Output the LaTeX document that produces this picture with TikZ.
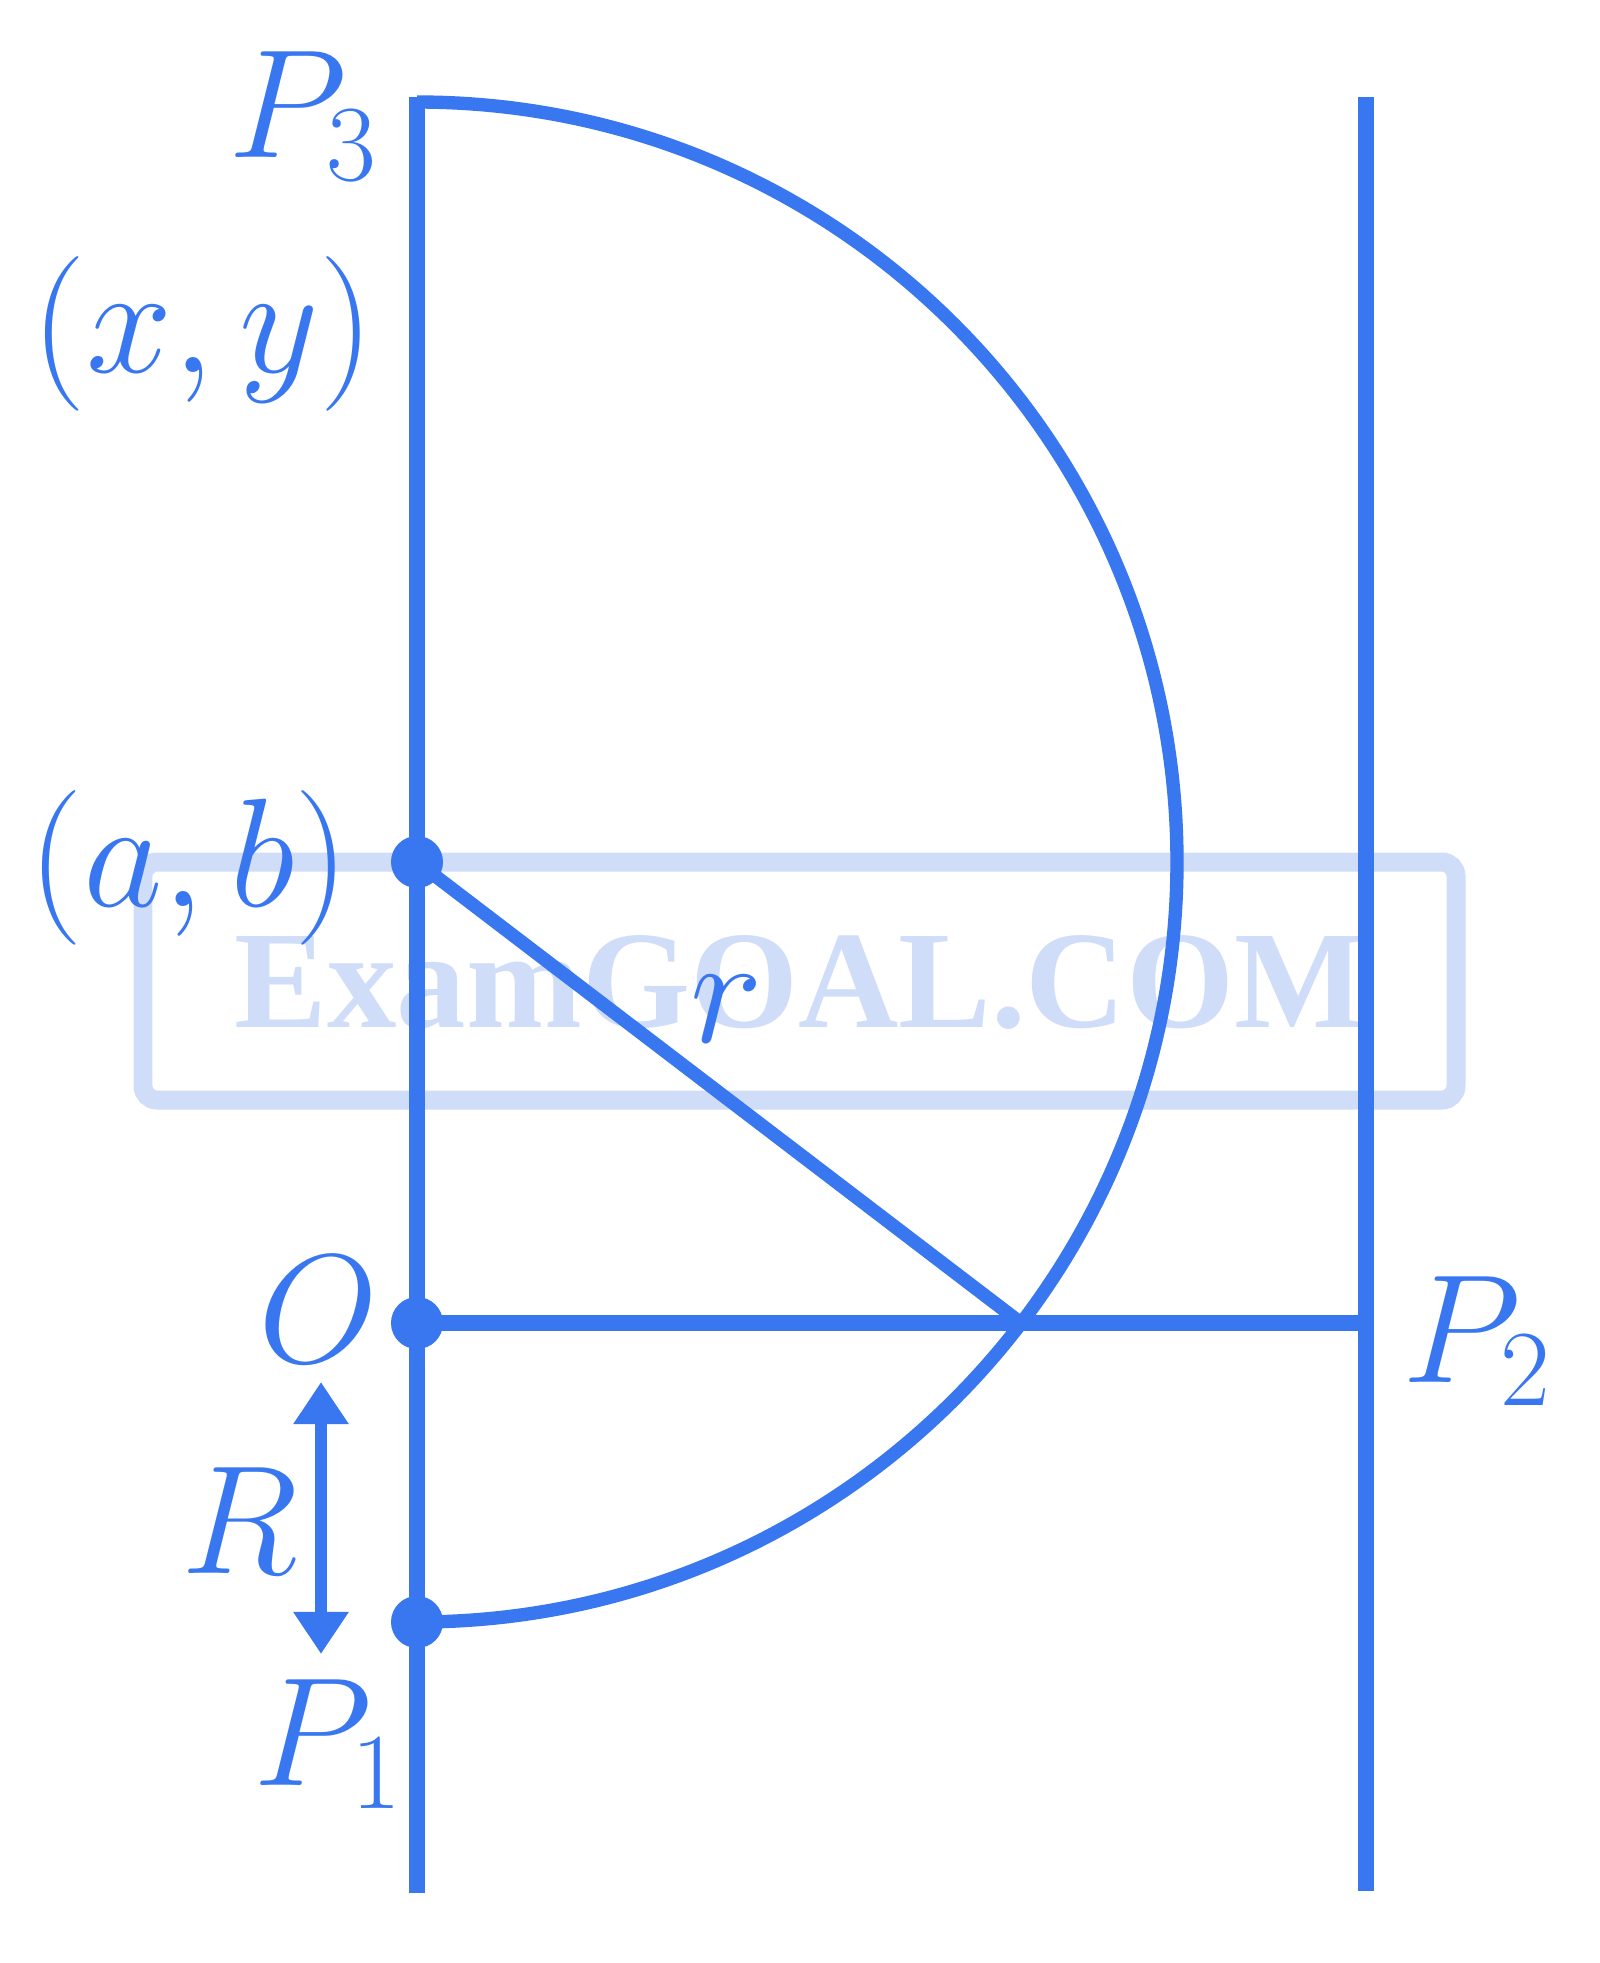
\RequirePackage{fix-cm}
\documentclass[tikz,border=0pt]{standalone}
\usepackage{fontspec}
\usetikzlibrary{arrows.meta}
\newfontfamily\wmfont{Liberation Serif}
\definecolor{ink}{RGB}{56,119,240}
\definecolor{wm}{RGB}{207,221,249}

\begin{document}
\begin{tikzpicture}[x=0.01cm, y=-0.01cm,
	blob/.style = {circle, fill=ink, inner sep=0pt, minimum size=0.52cm},
	lbl/.style = {text=ink, inner sep=0pt, font=\fontsize{44}{50}\selectfont},
	wire/.style = {draw=ink, line width=4.3pt},
	arcline/.style = {draw=ink, line width=3.8pt}]
		\useasboundingbox (0,0) rectangle (1600,1963);
		% watermark
		\draw[wm, line width=5.4pt, rounded corners=4pt] (143,862) rectangle (1456,1100);
		\node[text=wm, anchor=base, font=\wmfont\bfseries\fontsize{39.5}{40}\selectfont] (mark) at (800,1027) {ExamGOAL.COM};
		% points
		\coordinate (top) at (417,97);
		\coordinate (bot) at (417,1893);
		\coordinate (rtop) at (1366,97);
		\coordinate (rbot) at (1366,1891);
		\coordinate (q) at (1021,1323);
		\node[blob] (ab) at (417,862) {};
		\node[blob] (o) at (417,1323) {};
		\node[blob] (p1) at (417,1622) {};
		% lines
		\draw[wire] (top) -- (bot);
		\draw[wire] (rtop) -- (rbot);
		\draw[wire] (o.center) -- (o.center -| rtop);
		\draw[arcline] (ab.center) ++(0,-760) arc[start angle=-90, end angle=90, radius=760];
		\draw[arcline] (ab.center) -- (q);
		% R arrow
		\coordinate (ra) at (321,1382);
		\coordinate (rb) at (321,1654);
		\draw[ink, line width=3.6pt, {Triangle[width=15pt,length=12pt]}-{Triangle[width=15pt,length=12pt]}] (ra) -- (rb);
		% labels
		\node[lbl, anchor=base west] (p3lab) at (228,157) {$P_3$};
		\node[lbl, anchor=base] (xylab) at (203,372) {$(x, y)$};
		\node[lbl, anchor=base] (ablab) at (189,906) {$(a, b)$};
		\node[lbl, anchor=base] (rlab) at (727,1042) {$r$};
		\node[lbl, anchor=base] (olab) at (318,1362) {$O$};
		\node[lbl, anchor=base] (Rlab) at (240,1573) {$R$};
		\node[lbl, anchor=base west] (p1lab) at (253,1785) {$P_1$};
		\node[lbl, anchor=base west] (p2lab) at (1402,1382) {$P_2$};
\end{tikzpicture}
\end{document}
